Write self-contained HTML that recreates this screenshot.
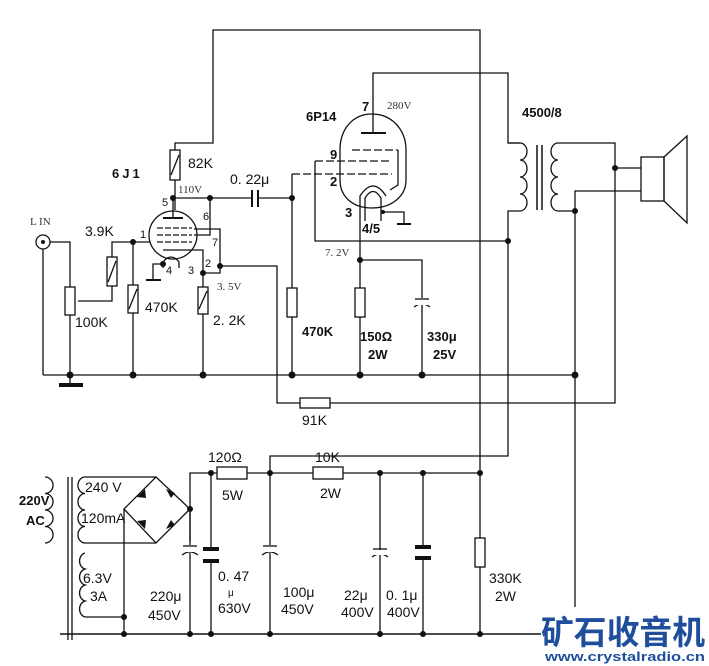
<!DOCTYPE html>
<html><head><meta charset="utf-8"><style>
html,body{margin:0;padding:0;background:#fff}
svg{display:block}
text{font-family:"Liberation Sans",Arial,sans-serif;fill:#111}
.s{font-family:"Liberation Serif",serif;font-size:11px;fill:#333}
.b{font-size:14px}
.bb{font-size:13px;font-weight:bold}
</style></head><body>
<svg width="709" height="666" viewBox="0 0 709 666" xmlns="http://www.w3.org/2000/svg">
<g stroke="#111" stroke-width="1.3" fill="none">
<polyline points="175,150 175,143 213,143 213,30 480,30 480,634"/>
<polyline points="373,105 373,73 508,73 508,143 520,143"/>
<line x1="175" y1="180" x2="175" y2="210"/>
<rect x="170" y="150" width="10" height="30" fill="#fff"/>
<line x1="171" y1="175" x2="179" y2="155"/>
<polyline points="175,198 252,198"/><polyline points="258,198 292,198"/>
<line x1="252" y1="190" x2="252" y2="207" stroke-width="2"/><line x1="258" y1="190" x2="258" y2="207" stroke-width="2"/>
<polyline points="210,198 210,235 194,235"/>
<polyline points="194,229 220,229 220,266 277,266 277,403 300,403"/>
<polyline points="330,403 615,403 615,143 565,143"/>
<rect x="300" y="398" width="30" height="10" fill="#fff"/>
<circle cx="173" cy="235" r="24"/>
<line x1="173" y1="198" x2="173" y2="218"/><line x1="163" y1="218" x2="183" y2="218" stroke-width="2"/>
<line x1="157" y1="228" x2="192" y2="228" stroke-dasharray="6,2"/>
<line x1="157" y1="235" x2="192" y2="235" stroke-dasharray="6,2"/>
<line x1="157" y1="242" x2="192" y2="242" stroke-dasharray="6,2"/>
<polyline points="163,250 203,250 203,287"/>
<path d="M163,268 L163,262 Q171,252 179,262 L179,268"/>
<polyline points="203,273 220,273 220,266"/>
<polyline points="163,264 153,264 153,280"/><line x1="146" y1="280" x2="161" y2="280" stroke-width="2"/>
<polyline points="50,242 70,242 70,287"/>
<polyline points="150,242 112,242 112,257"/>
<polyline points="112,286 112,301 78,301"/>
<rect x="107" y="257" width="10" height="29" fill="#fff"/><line x1="108" y1="282" x2="116" y2="261"/>
<rect x="65" y="287" width="10" height="28" fill="#fff"/>
<line x1="70" y1="315" x2="70" y2="375"/>
<circle cx="43" cy="242" r="7"/>
<line x1="43" y1="249" x2="43" y2="375"/>
<line x1="133" y1="242" x2="133" y2="285"/><line x1="133" y1="313" x2="133" y2="375"/>
<rect x="128" y="285" width="10" height="28" fill="#fff"/><line x1="129" y1="309" x2="137" y2="289"/>
<rect x="198" y="287" width="10" height="27" fill="#fff"/><line x1="199" y1="309" x2="207" y2="291"/>
<line x1="203" y1="314" x2="203" y2="375"/>
<line x1="43" y1="375" x2="575" y2="375"/>
<line x1="59" y1="385" x2="83" y2="385" stroke-width="4"/><line x1="70" y1="375" x2="70" y2="385"/>
<path d="M372,114 C392,114 406,130 406,150 L406,180 C406,196 392,208 372,208 C352,208 340,196 340,180 L340,150 C340,130 352,114 372,114Z"/>
<line x1="373" y1="105" x2="373" y2="133"/><line x1="361" y1="133" x2="386" y2="133" stroke-width="2"/>
<line x1="352" y1="150" x2="398" y2="150" stroke-dasharray="8,3"/>
<polyline points="398,150 398,185 390,190"/>
<line x1="315" y1="161" x2="392" y2="161" stroke-dasharray="8,3"/>
<line x1="292" y1="174" x2="392" y2="174" stroke-dasharray="8,3"/>
<polyline points="315,161 315,241 508,241"/>
<line x1="292" y1="174" x2="292" y2="288"/><line x1="292" y1="317" x2="292" y2="375"/>
<rect x="287" y="288" width="10" height="29" fill="#fff"/>
<path d="M365,221 L365,198 Q373,185 381,198 L381,221"/>
<path d="M360,210 L360,196 Q373,176 386,196"/>
<line x1="360" y1="210" x2="360" y2="288"/>
<line x1="360" y1="317" x2="360" y2="375"/>
<rect x="355" y="288" width="10" height="29" fill="#fff"/>
<polyline points="360,260 422,260 422,298"/><line x1="422" y1="305" x2="422" y2="375"/>
<line x1="415" y1="299" x2="429" y2="299"/><path d="M414,307 Q422,301 430,307"/>
<polyline points="383,212 404,212 404,224"/><line x1="397" y1="224" x2="411" y2="224" stroke-width="2"/>
<path d="M508,143 L520,143 M520,143 a7,8.5 0 0 1 0,17 a7,8.5 0 0 1 0,17 a7,8.5 0 0 1 0,17 a7,8.5 0 0 1 0,17 L508,211 L508,456 L270,456 L270,473"/>
<line x1="537" y1="145" x2="537" y2="210" stroke-width="1.5"/><line x1="542" y1="145" x2="542" y2="210" stroke-width="1.5"/>
<path d="M565,143 L558,143 a7,8.5 0 0 0 0,17 a7,8.5 0 0 0 0,17 a7,8.5 0 0 0 0,17 a7,8.5 0 0 0 0,17 L575,211"/>
<line x1="615" y1="168" x2="641" y2="168"/><polyline points="641,191 575,191 575,607"/>
<rect x="641" y="157" width="23" height="44"/><polygon points="664,157 687,136 687,223 664,201"/>
<polyline points="190,541 190,473 217,473"/><line x1="247" y1="473" x2="313" y2="473"/><line x1="343" y1="473" x2="480" y2="473"/>
<rect x="217" y="467" width="30" height="12" fill="#fff"/><rect x="313" y="467" width="30" height="12" fill="#fff"/>
<rect x="475" y="538" width="10" height="29" fill="#fff"/>
<line x1="60" y1="634" x2="541" y2="634" stroke-width="1.5"/>
<path d="M45,477 a8,8.2 0 0 1 0,16.5 a8,8.2 0 0 1 0,16.5 a8,8.2 0 0 1 0,16.5 a8,8.2 0 0 1 0,16.5"/>
<line x1="68" y1="477" x2="68" y2="640"/><line x1="72" y1="477" x2="72" y2="640"/>
<path d="M85,477 a7,8.2 0 0 0 0,16.5 a7,8.2 0 0 0 0,16.5 a7,8.2 0 0 0 0,16.5 a7,8.2 0 0 0 0,16.5"/>
<path d="M85,553 a7,8.2 0 0 0 0,16 a7,8.2 0 0 0 0,16 a7,8.2 0 0 0 0,16 a7,8.2 0 0 0 0,16"/>
<line x1="85" y1="477" x2="156" y2="477"/><line x1="85" y1="543" x2="156" y2="543"/>
<polyline points="85,617 124,617"/>
<polygon points="156,477 190,509 156,543 124,509"/>
<line x1="124" y1="509" x2="124" y2="634"/>
<line x1="190" y1="509" x2="190" y2="545"/><line x1="190" y1="553" x2="190" y2="634"/>
<line x1="183" y1="546" x2="197" y2="546"/><path d="M182,555 Q190,549 198,555"/>
<line x1="211" y1="473" x2="211" y2="634"/>
<line x1="270" y1="473" x2="270" y2="545"/><line x1="270" y1="553" x2="270" y2="634"/>
<line x1="263" y1="546" x2="277" y2="546"/><path d="M262,555 Q270,549 278,555"/>
<line x1="380" y1="473" x2="380" y2="634"/>
<line x1="373" y1="549" x2="387" y2="549"/><path d="M372,557 Q380,551 388,557"/>
<line x1="423" y1="473" x2="423" y2="634"/>
</g>
<g fill="#fff"><rect x="181" y="547" width="18" height="5"/><rect x="261" y="547" width="18" height="5"/><rect x="371" y="550" width="18" height="5"/><rect x="415" y="300" width="15" height="5"/><rect x="203" y="549" width="16" height="11"/><rect x="415" y="547" width="16" height="11"/></g>
<g stroke="#111" stroke-width="4"><line x1="203" y1="549" x2="219" y2="549"/><line x1="203" y1="561" x2="219" y2="561"/><line x1="415" y1="547" x2="431" y2="547"/><line x1="415" y1="558" x2="431" y2="558"/></g>
<g fill="#111"><polygon points="137,497 145,489 146,498"/><polygon points="166,489 175,493 171,498"/><polygon points="137,521 146,520 145,529"/><polygon points="171,520 175,525 166,529"/></g>
<g fill="#111">
<circle cx="173" cy="198" r="3"/><circle cx="210" cy="198" r="3"/><circle cx="292" cy="198" r="3"/><circle cx="133" cy="242" r="3"/>
<circle cx="220" cy="266" r="3"/><circle cx="203" cy="273" r="3"/><circle cx="163" cy="264" r="3"/>
<circle cx="70" cy="375" r="3.5"/><circle cx="133" cy="375" r="3.5"/><circle cx="203" cy="375" r="3.5"/><circle cx="292" cy="375" r="3.5"/><circle cx="360" cy="375" r="3.5"/><circle cx="422" cy="375" r="3.5"/><circle cx="575" cy="375" r="3.5"/>
<circle cx="360" cy="260" r="3"/><circle cx="508" cy="241" r="3"/><circle cx="615" cy="168" r="3"/><circle cx="575" cy="211" r="3"/><circle cx="383" cy="212" r="2"/>
<circle cx="190" cy="509" r="3"/><circle cx="211" cy="473" r="3"/><circle cx="270" cy="473" r="3"/><circle cx="380" cy="473" r="3"/><circle cx="423" cy="473" r="3"/><circle cx="480" cy="473" r="3"/>
<circle cx="124" cy="617" r="3"/><circle cx="124" cy="634" r="3"/><circle cx="190" cy="634" r="3"/><circle cx="211" cy="634" r="3"/><circle cx="270" cy="634" r="3"/><circle cx="380" cy="634" r="3"/><circle cx="423" cy="634" r="3"/><circle cx="480" cy="634" r="3"/>
<circle cx="43" cy="242" r="2"/>
</g>
<text x="112" y="178" class="bb" letter-spacing="3">6J1</text>
<text x="188" y="168" class="b">82K</text>
<text x="178" y="193" class="s">110V</text>
<text x="230" y="184" class="b">0. 22μ</text>
<text x="30" y="225" class="s">L IN</text>
<text x="85" y="236" class="b">3.9K</text>
<text x="145" y="312" class="b">470K</text>
<text x="75" y="327" class="b">100K</text>
<text x="213" y="325" class="b">2. 2K</text>
<text x="217" y="290" class="s" fill="#666">3. 5V</text>
<g font-size="11"><text x="162" y="206">5</text><text x="203" y="220">6</text><text x="140" y="238">1</text><text x="212" y="246">7</text><text x="205" y="267">2</text><text x="166" y="274">4</text><text x="188" y="274">3</text></g>
<text x="306" y="121" class="bb">6P14</text>
<text x="362" y="111" class="bb">7</text>
<text x="387" y="109" class="s">280V</text>
<text x="330" y="159" class="bb">9</text><text x="330" y="186" class="bb">2</text><text x="345" y="217" class="bb">3</text>
<text x="362" y="233" class="bb">4/5</text>
<text x="325" y="256" class="s">7. 2V</text>
<text x="302" y="336" class="bb">470K</text>
<text x="360" y="341" class="bb">150Ω</text><text x="368" y="359" class="bb">2W</text>
<text x="427" y="341" class="bb">330μ</text><text x="433" y="359" class="bb">25V</text>
<text x="522" y="117" class="bb">4500/8</text>
<text x="302" y="425" class="b">91K</text>
<text x="208" y="462" class="b">120Ω</text><text x="222" y="500" class="b">5W</text>
<text x="315" y="462" class="b">10K</text><text x="320" y="498" class="b">2W</text>
<text x="19" y="505" class="bb">220V</text><text x="26" y="525" class="bb">AC</text>
<text x="85" y="492" class="b">240 V</text><text x="81" y="523" class="b">120mA</text>
<text x="83" y="583" class="b">6.3V</text><text x="90" y="601" class="b">3A</text>
<text x="150" y="601" class="b">220μ</text><text x="148" y="620" class="b">450V</text>
<text x="218" y="581" class="b">0. 47</text><text x="228" y="596" font-size="10">μ</text><text x="218" y="613" class="b">630V</text>
<text x="283" y="597" class="b">100μ</text><text x="281" y="614" class="b">450V</text>
<text x="344" y="600" class="b">22μ</text><text x="341" y="617" class="b">400V</text>
<text x="386" y="600" class="b">0. 1μ</text><text x="387" y="617" class="b">400V</text>
<text x="489" y="583" class="b">330K</text><text x="495" y="601" class="b">2W</text>
<text x="541" y="644" font-size="33" font-weight="bold" textLength="164" lengthAdjust="spacingAndGlyphs" style="fill:#1f4f9c;font-family:'Liberation Sans','Noto Sans CJK SC',sans-serif">矿石收音机</text>
<text x="545" y="661" font-size="13" font-weight="bold" textLength="160" lengthAdjust="spacingAndGlyphs" style="fill:#1f4f9c">www.crystalradio.cn</text>
</svg>
</body></html>
